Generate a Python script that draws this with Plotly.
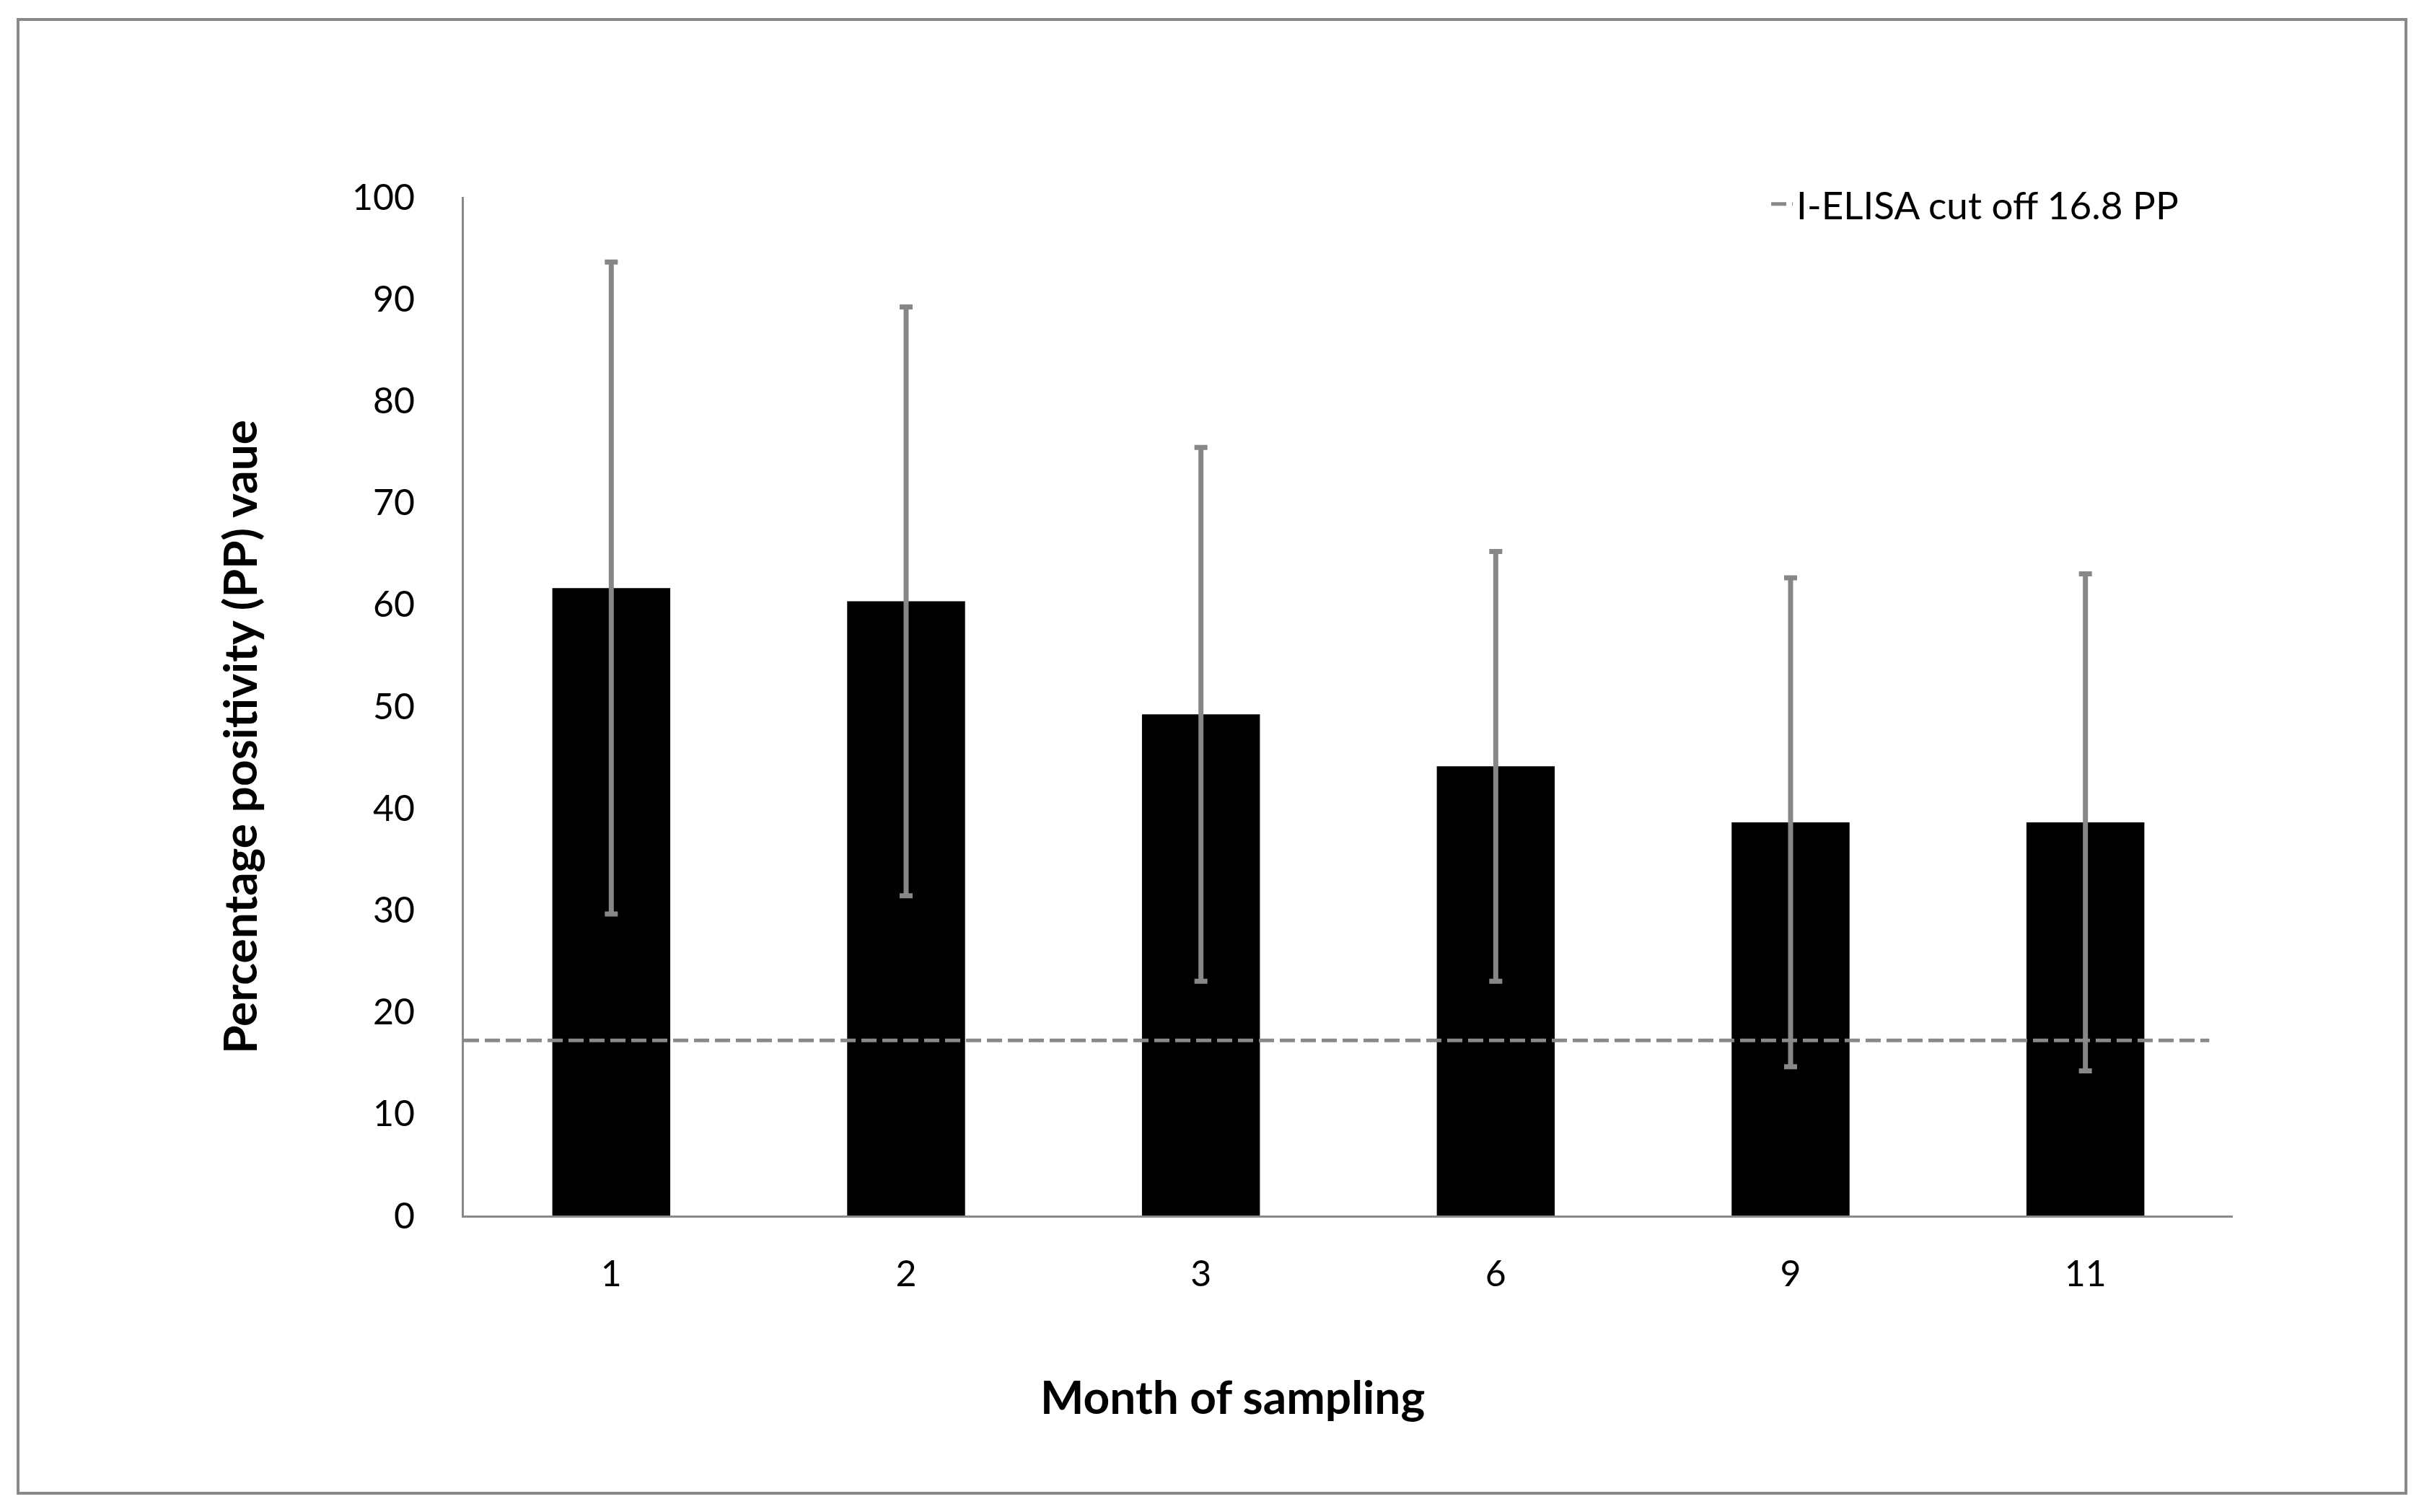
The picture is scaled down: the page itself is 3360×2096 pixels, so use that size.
import plotly.graph_objects as go

# ---- data ----
months = ["1", "2", "3", "6", "9", "11"]
mean_pp = [61.6, 60.3, 49.2, 44.1, 38.6, 38.6]
sd_pp = [32.0, 28.9, 26.2, 21.1, 24.0, 24.4]
cutoff_pp = 17.2
cutoff_label = "I-ELISA cut off 16.8 PP"
y_ticks = [0, 10, 20, 30, 40, 50, 60, 70, 80, 90, 100]
x_title = "Month of sampling"
y_title = "Percentage positivity (PP) vaue"

W, H = 3360, 2096
L, R, T, B = 643, 265, 273, 411
pw, ph = W - L - R, H - T - B

GREY = "#898989"
FONT = "Lato, Carlito, Calibri, sans-serif"

pos = list(range(len(months)))

fig = go.Figure()
fig.add_trace(go.Bar(
    x=pos, y=mean_pp, width=0.4,
    marker=dict(color="#000000", line=dict(width=0)),
    error_y=dict(type="data", array=sd_pp, visible=True,
                 color="#878787", thickness=7, width=9),
    showlegend=False,
))
fig.add_trace(go.Scatter(
    x=[-0.5, 5.42], y=[cutoff_pp, cutoff_pp], mode="lines",
    line=dict(color=GREY, width=5, dash="21px,8px"),
    name=cutoff_label, showlegend=True,
))

fig.update_layout(
    width=W, height=H,
    margin=dict(l=L, r=R, t=T, b=B, autoexpand=False),
    paper_bgcolor="white", plot_bgcolor="white",
    font=dict(family=FONT, size=50, color="#000000"),
    showlegend=True,
    legend=dict(x=0.737, y=0.993, xanchor="left", yanchor="middle",
                bgcolor="rgba(0,0,0,0)", font=dict(size=53, family=FONT),
                borderwidth=0),
    xaxis=dict(range=[-0.5, 5.5], tickmode="array", tickvals=pos, ticktext=months,
               showgrid=False, zeroline=False, showline=True, linecolor=GREY,
               linewidth=3, ticks="", ticklabelstandoff=35, fixedrange=True),
    yaxis=dict(range=[0, 100], tickmode="array", tickvals=y_ticks,
               showgrid=False, zeroline=False, showline=True, linecolor=GREY,
               linewidth=3, ticks="", ticklabelstandoff=55, fixedrange=True),
    shapes=[dict(type="rect", xref="paper", yref="paper",
                 x0=(25 - L) / pw, x1=(3335 - L) / pw,
                 y0=(H - B - 2070) / ph, y1=(H - B - 27) / ph,
                 line=dict(color=GREY, width=4), fillcolor="rgba(0,0,0,0)",
                 layer="below")],
    annotations=[
        dict(text="<b>%s</b>" % x_title, xref="paper", yref="paper",
             x=(1708 - L) / pw, y=(H - B - 1935) / ph, xanchor="center",
             yanchor="middle", showarrow=False, font=dict(size=64, family=FONT)),
        dict(text="<b>%s</b>" % y_title, xref="paper", yref="paper",
             x=(332 - L) / pw, y=(H - B - 1022) / ph, xanchor="center",
             yanchor="middle", textangle=-90, showarrow=False,
             font=dict(size=64, family=FONT)),
    ],
)

fig.write_html("out.html", config={"displayModeBar": False},
               post_script="document.body.style.margin='0';")
